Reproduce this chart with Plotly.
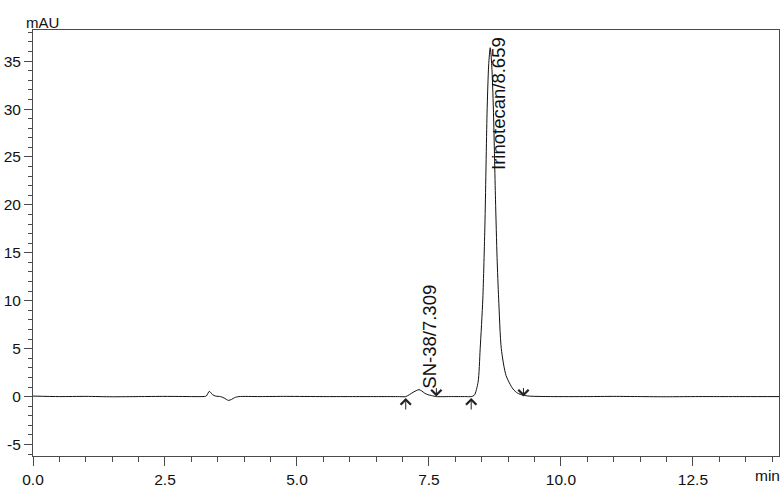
import plotly.graph_objects as go

# Chromatogram signal (time in min, signal in mAU)
time_min = [0.0, 0.5, 1.0, 1.5, 2.0, 2.5, 3.0, 3.2, 3.28, 3.34, 3.40, 3.46, 3.55, 3.62, 3.70, 3.76,
            3.82, 3.90, 4.3, 4.8, 5.5, 6.0, 6.5, 6.9, 7.06, 7.13, 7.20, 7.27, 7.31, 7.36, 7.42,
            7.48, 7.55, 7.64, 7.9, 8.20, 8.30, 8.36, 8.43, 8.47, 8.52, 8.56, 8.60, 8.63, 8.66,
            8.69, 8.72, 8.76, 8.79, 8.82, 8.87, 8.96, 9.09, 9.18, 9.28, 9.40, 9.8, 10.5, 11.0,
            11.5, 12.0, 12.5, 13.0, 13.5, 14.13]
signal_mau = [0.05, 0.0, 0.02, -0.02, 0.0, 0.02, 0.0, 0.0, 0.05, 0.55, 0.2, 0.05, 0.0, -0.15, -0.4, -0.3,
              -0.1, 0.0, 0.0, 0.02, 0.0, 0.0, 0.0, 0.0, 0.0, 0.2, 0.45, 0.65, 0.72, 0.6, 0.35,
              0.2, 0.1, 0.0, 0.0, 0.0, 0.0, 0.15, 1.5, 5.0, 10.2, 18.0, 29.5, 34.5, 36.4,
              34.5, 30.0, 20.6, 14.5, 10.2, 5.0, 2.2, 0.8, 0.35, 0.15, 0.05, 0.0, 0.0, 0.02,
              0.0, -0.02, 0.0, 0.0, 0.0, 0.0]

# Peak labels
peak_names = ["SN-38/7.309", "Irinotecan/8.659"]
peak_label_x = [7.51, 8.83]
peak_label_y = [0.67, 37.7]
peak_label_anchor = ["bottom", "top"]

# Integration event markers (peak start / end)
peak_starts = [7.06, 8.30]
peak_ends = [7.64, 9.29]

x_ticks = [0.0, 2.5, 5.0, 7.5, 10.0, 12.5]
y_ticks = [-5, 0, 5, 10, 15, 20, 25, 30, 35]

FONT = "Liberation Sans, Arial, sans-serif"
AXC = "#4a4a4a"

fig = go.Figure()
fig.add_trace(go.Scatter(x=time_min, y=signal_mau, mode="lines",
                         line=dict(color="#111111", width=1, shape="spline", smoothing=0.7),
                         showlegend=False, hoverinfo="skip"))

for name, lx, ly, anc in zip(peak_names, peak_label_x, peak_label_y, peak_label_anchor):
    fig.add_annotation(x=lx, y=ly, text=name, showarrow=False, textangle=-90,
                       xanchor="center", yanchor=anc,
                       font=dict(family=FONT, size=18.5, color="#111111"))

for t in peak_starts:
    fig.add_annotation(x=t, y=-0.15, ax=0, ay=13, text="", showarrow=True,
                       arrowhead=4, arrowsize=2, arrowwidth=1, arrowcolor="#222222")
for t in peak_ends:
    fig.add_annotation(x=t, y=0.0, ax=0, ay=-10, text="", showarrow=True,
                       arrowhead=4, arrowsize=2, arrowwidth=1, arrowcolor="#222222")

fig.add_annotation(xref="paper", yref="paper", x=-0.0124, y=1.0187, text="mAU",
                   showarrow=False, xanchor="left", yanchor="middle",
                   font=dict(family=FONT, size=15, color="#111111"))
fig.add_annotation(xref="paper", yref="paper", x=0.985, y=-0.0467, text="min",
                   showarrow=False, xanchor="center", yanchor="middle",
                   font=dict(family=FONT, size=15.5, color="#111111"))

fig.update_xaxes(range=[0, 14.13], tickvals=x_ticks, ticktext=[f"{v:.1f}" for v in x_ticks],
                 ticks="outside", ticklen=9, tickwidth=1, tickcolor=AXC,
                 minor=dict(dtick=0.5, tick0=0, ticks="outside", ticklen=5, tickcolor=AXC),
                 showline=True, linecolor=AXC, linewidth=1, mirror=True,
                 showgrid=False, zeroline=False,
                 tickfont=dict(family=FONT, size=15.5, color="#111111"))
fig.update_yaxes(range=[-6.2, 38.25], tickvals=y_ticks, ticktext=[str(v) for v in y_ticks],
                 ticks="outside", ticklen=8, tickwidth=1, tickcolor=AXC,
                 minor=dict(dtick=1, tick0=0, ticks="outside", ticklen=4, tickcolor=AXC),
                 showline=True, linecolor=AXC, linewidth=1, mirror=True,
                 showgrid=False, zeroline=False,
                 tickfont=dict(family=FONT, size=15.5, color="#111111"))

fig.update_layout(width=784, height=492, margin=dict(l=30, r=4, t=30, b=34),
                  paper_bgcolor="white", plot_bgcolor="white",
                  font=dict(family=FONT, size=15, color="#111111"))

fig.write_html("out.html")
